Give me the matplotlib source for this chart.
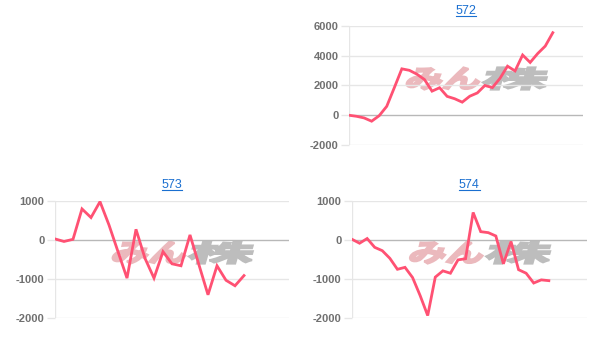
import matplotlib
matplotlib.use('Agg')
import matplotlib.pyplot as plt
from matplotlib.textpath import TextPath
from matplotlib.font_manager import FontProperties
from matplotlib.patches import PathPatch
from matplotlib.lines import Line2D
from matplotlib.transforms import Affine2D

plt.rcParams['font.family'] = ['Liberation Sans', 'DejaVu Sans']

# chart titles
names = ['572', '573', '574']

# series values
vals_572 = [0, -70, -180, -400, -30, 600, 1850, 3120, 3020, 2760, 2400, 1620, 1850, 1270,
            1110, 880, 1280, 1500, 2000, 1860, 2480, 3300, 2980, 4050, 3550, 4150, 4650, 5550]
vals_573 = [25, -40, 15, 790, 570, 975, 380, -300, -975, 270, -470, -975, -300, -610,
            -660, 127, -640, -1400, -660, -1030, -1170, -910]
vals_574 = [15, -85, 35, -190, -275, -470, -750, -700, -960, -1420, -1930, -950, -790, -850,
            -510, -480, 700, 210, 185, 100, -610, -40, -760, -850, -1100, -1020, -1040]

yticks_top = [-2000, 0, 2000, 4000, 6000]
yticks_bottom = [-2000, -1000, 0, 1000]

LINE = '#ff5173'
GRID = '#e6e6e6'
ZERO = '#b8b8b8'
LINK = '#1a6fd0'

W, H = 609, 339
fig = plt.figure(figsize=(W / 100, H / 100), dpi=100)


def px_axes(left, right, top, bottom):
    return fig.add_axes([left / W, 1 - bottom / H, (right - left) / W, (bottom - top) / H])


def watermark(ax, cx, cy):
    # "みん株" logo, drawn as stretched italic glyph outlines in pixel space
    fp = FontProperties(family='Noto Sans CJK JP', weight='bold')
    parts = [('みん', '#ebb9bd', 72), ('株', '#bdbdbd', 64)]
    x = cx - 70
    for txt, col, wpx in parts:
        tp = TextPath((0, 0), txt, size=1, prop=fp)
        ext = tp.get_extents()
        sx = wpx / ext.width
        sy = 22 / ext.height
        tr = (Affine2D().translate(-ext.x0, -ext.y0).scale(sx, sy).skew_deg(16, 0)
              .translate(x, H - cy - 11))
        ax.add_patch(PathPatch(tr.transform_path(tp), fc=col, ec=col, lw=1.6,
                               transform=Affine2D(), zorder=0.5, clip_on=False))
        x += wpx + 4


def draw(ax, name, vals, ylim, yticks, xmax, box):
    ax.plot(range(len(vals)), vals, color=LINE, lw=2.0, zorder=3, solid_joinstyle='miter')
    ax.set_xlim(0, xmax)
    ax.set_ylim(*ylim)
    ax.set_yticks(yticks)
    ax.set_yticklabels([str(v) for v in yticks])
    ax.set_xticks([])
    for s in ax.spines.values():
        s.set_visible(False)
    for v in yticks:
        ax.axhline(v, color=ZERO if v == 0 else GRID, lw=1, zorder=1)
    ax.axvline(0, color=GRID, lw=1, zorder=1)
    ax.tick_params(axis='y', length=6, width=1, color=GRID, pad=1.5,
                   labelsize=8, labelcolor='#707070')
    for lab in ax.get_yticklabels():
        lab.set_fontweight('bold')
    left, right, top, bottom = box
    t = ax.text(0.5, 1 + 15.5 / (bottom - top), name, transform=ax.transAxes,
                ha='center', va='center', fontsize=9, color=LINK)
    watermark(ax, (left + right) / 2 + 9, (top + bottom) / 2 - 7)
    return t


boxes = [(349, 583, 26, 145), (55, 289, 200.7, 318.3), (352, 586.7, 200.7, 318.3)]
ax1 = px_axes(*boxes[0])
ax2 = px_axes(*boxes[1])
ax3 = px_axes(*boxes[2])

titles = [
    draw(ax1, names[0], vals_572, (-2000, 6000), yticks_top, 31, boxes[0]),
    draw(ax2, names[1], vals_573, (-2000, 1000), yticks_bottom, 26, boxes[1]),
    draw(ax3, names[2], vals_574, (-2000, 1000), yticks_bottom, 31, boxes[2]),
]

# underline the link-style titles
fig.canvas.draw()
rend = fig.canvas.get_renderer()
for t in titles:
    bb = t.get_window_extent(rend)
    y = bb.y0 + 1
    fig.add_artist(Line2D([bb.x0, bb.x1], [y, y], color=LINK, lw=0.8,
                          transform=Affine2D()))

fig.savefig('out.png', dpi=100)
